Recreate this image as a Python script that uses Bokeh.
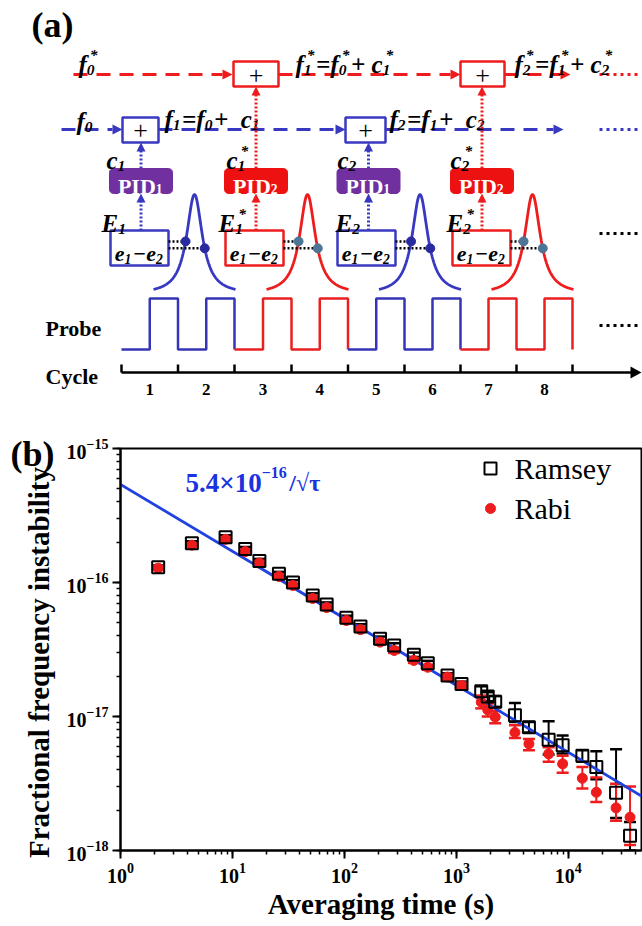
import numpy as np
from bokeh.plotting import figure
from bokeh.models import Range1d, Whisker, TeeHead, ColumnDataSource, Label
from bokeh.core.properties import value
from bokeh.embed import file_html
from bokeh.resources import INLINE

# ---------------- data for panel (b) ----------------
tau = [2.17, 4.34, 8.68, 13.0, 17.4, 26.0, 34.7, 52.1, 69.4, 104, 139, 208, 278,
       417, 555, 833, 1111, 1666, 1905, 2222, 3333, 4444, 6666, 8888, 13333,
       17777, 26666, 35555]
ramsey = [1.30e-16, 1.96e-16, 2.18e-16, 1.78e-16, 1.45e-16, 1.16e-16, 1.00e-16,
          8.0e-17, 6.86e-17, 5.45e-17, 4.7e-17, 3.8e-17, 3.39e-17, 2.89e-17,
          2.5e-17, 2.02e-17, 1.75e-17, 1.54e-17, 1.41e-17, 1.29e-17, 1.02e-17,
          8.3e-18, 6.7e-18, 6.1e-18, 5.1e-18, 4.2e-18, 2.7e-18, 1.29e-18]
ramsey_hi = [1.34e-16, 2.03e-16, 2.25e-16, 1.84e-16, 1.50e-16, 1.20e-16, 1.04e-16,
             8.3e-17, 7.1e-17, 5.65e-17, 4.88e-17, 3.95e-17, 3.52e-17, 3.0e-17,
             2.6e-17, 2.1e-17, 1.82e-17, 1.68e-17, 1.52e-17, 1.42e-17, 1.26e-17,
             9.1e-18, 9.2e-18, 7.2e-18, 5.6e-18, 5.5e-18, 5.7e-18, 1.63e-18]
ramsey_lo = [1.26e-16, 1.89e-16, 2.11e-16, 1.72e-16, 1.40e-16, 1.12e-16, 0.96e-16,
             7.7e-17, 6.6e-17, 5.25e-17, 4.52e-17, 3.65e-17, 3.26e-17, 2.78e-17,
             2.4e-17, 1.94e-17, 1.68e-17, 1.42e-17, 1.30e-17, 1.18e-17, 9.1e-18,
             7.6e-18, 5.2e-18, 5.3e-18, 4.6e-18, 3.4e-18, 1.75e-18, 1.0e-18]
rabi = [1.28e-16, 1.90e-16, 2.10e-16, 1.70e-16, 1.40e-16, 1.11e-16, 9.5e-17,
        7.6e-17, 6.5e-17, 5.2e-17, 4.45e-17, 3.59e-17, 3.11e-17, 2.62e-17,
        2.33e-17, 1.97e-17, 1.70e-17, 1.28e-17, 1.12e-17, 9.9e-18, 7.6e-18,
        6.25e-18, 5.26e-18, 4.43e-18, 3.46e-18, 2.72e-18, 2.08e-18, 1.77e-18]
rabi_hi = [1.32e-16, 1.96e-16, 2.17e-16, 1.76e-16, 1.45e-16, 1.15e-16, 9.85e-17,
           7.9e-17, 6.75e-17, 5.4e-17, 4.62e-17, 3.73e-17, 3.24e-17, 2.73e-17,
           2.43e-17, 2.06e-17, 1.79e-17, 1.43e-17, 1.25e-17, 1.1e-17, 8.6e-18,
           6.8e-18, 5.9e-18, 5.1e-18, 4.2e-18, 3.5e-18, 3.15e-18, 3.0e-18]
rabi_lo = [1.24e-16, 1.84e-16, 2.03e-16, 1.64e-16, 1.35e-16, 1.07e-16, 9.15e-17,
           7.3e-17, 6.25e-17, 5.0e-17, 4.28e-17, 3.45e-17, 2.98e-17, 2.51e-17,
           2.23e-17, 1.88e-17, 1.61e-17, 1.15e-17, 1.0e-17, 8.9e-18, 6.9e-18,
           5.6e-18, 4.6e-18, 3.8e-18, 2.9e-18, 2.3e-18, 1.67e-18, 1.1e-18]
fit_coef = 5.4e-16          # sigma = fit_coef / sqrt(tau)
x_limits = [1.0, 4.5e4]
y_limits = [1e-18, 1e-15]
x_title = "Averaging time (s)"
y_title = "Fractional frequency instability"

# ---------------- schematic (a) layout ----------------
cycle_labels = ["1", "2", "3", "4", "5", "6", "7", "8"]
cycle_bounds = [121, 177.5, 234, 291, 347.5, 404, 460, 516, 572]
pair_colors = ["#3535b5", "#e82020", "#3535b5", "#e82020"]
pid_names = [("PID", "1"), ("PID", "2"), ("PID", "1"), ("PID", "2")]
pid_colors = ["#7030a0", "#ee1111", "#7030a0", "#ee1111"]
pid_cx = [140.5, 255.5, 368, 481.5]
ebox_cx = [139, 254, 366, 481]
peak_cx = [194, 307, 419.5, 532]
dot_colors = ["#2a2aa0", "#4d7595", "#2a2aa0", "#4d7595"]

RED = "#ee1c1c"
BLUE = "#3838c0"
SERIF = "Liberation Serif"
PAGE_H = 926
HA = PAGE_H       # background canvas (diagram + outer texts)
HB = 501          # plot canvas, overlaid on the lower part
OVER = HA + HB - PAGE_H

W = {'f': 333, 'c': 444, 'e': 444, 'E': 667, '0': 500, '1': 500, '2': 500,
     '=': 570, '+': 570, ' ': 250, '*': 500, '\u2212': 606, 'P': 611, 'I': 389, 'D': 722}


def wid(s, size):
    return sum(W.get(ch, 500) for ch in s) * size / 1000.0


pa = figure(width=642, height=HA, x_range=Range1d(0, 642), y_range=Range1d(HA, 0),
            output_backend="svg", toolbar_location=None, min_border=0,
            x_axis_location=None, y_axis_location=None)
pa.grid.visible = False
pa.outline_line_color = None


def txt(fig, x, y, s, size, color="black", style="bold italic", align="left", base="alphabetic",
        font=SERIF, angle=0.0):
    fig.text(x=[x], y=[y], text=[s], text_font=value(font), text_font_style=style,
             text_font_size=value(f"{size}px"), text_color=color, text_align=align,
             text_baseline=base, angle=angle)


SUPDX = 3
GAP = 1.5


def math(fig, x, y, parts, size=25, color="black", style="bold italic", sub_dy=5):
    for main, sub, sup in parts:
        if main:
            txt(fig, x, y, main, size, color, style)
            x += wid(main, size)
        adv = 0
        if sub:
            txt(fig, x, y + sub_dy, sub, size * 0.62, color, style)
            adv = max(adv, wid(sub, size * 0.62) + GAP)
        if sup:
            txt(fig, x + SUPDX, y - 10, sup, size * 0.62, color, style)
            adv = max(adv, wid(sup, size * 0.62) + SUPDX + GAP)
        x += adv


def math_width(parts, size=25):
    t = 0
    for main, sub, sup in parts:
        if main:
            t += wid(main, size)
        adv = 0
        if sub:
            adv = max(adv, wid(sub, size * 0.62) + GAP)
        if sup:
            adv = max(adv, wid(sup, size * 0.62) + SUPDX + GAP)
        t += adv
    return t


def arrow_right(fig, x, y, color):
    fig.patch([x, x - 10, x - 10], [y, y - 5, y + 5], color=color, line_width=0)


def arrow_up(fig, x, y, color):
    fig.patch([x, x - 4.5, x + 4.5], [y, y + 9, y + 9], color=color, line_width=0)


def box(fig, x0, x1, y0, y1, color, lw=2.5):
    fig.quad(left=x0, right=x1, top=y0, bottom=y1, fill_color="white", line_color=color, line_width=lw)


txt(pa, 31, 24, "(a)", 36, style="bold", base="middle")
txt(pa, 10, 453, "(b)", 36, style="bold", base="middle")
txt(pa, 38, 662, y_title, 29, style="bold", align="center", base="middle", angle=np.pi / 2)

# red (starred) line
RY = 74
dash = "14 9"
pa.line([73, 222], [RY, RY], color=RED, line_width=3, line_dash=dash)
arrow_right(pa, 232, RY, RED)
pa.line([278, 450], [RY, RY], color=RED, line_width=3, line_dash=dash)
arrow_right(pa, 460, RY, RED)
pa.line([504, 560], [RY, RY], color=RED, line_width=3, line_dash=dash)
arrow_right(pa, 570, RY, RED)
pa.line([599, 640], [RY, RY], color=RED, line_width=3, line_dash="3 4")
box(pa, 233, 278, 61, 86, RED)
box(pa, 460, 504, 61, 86, RED)
txt(pa, 255.5, 75, "+", 26, style="normal", align="center", base="middle")
txt(pa, 482, 75, "+", 26, style="normal", align="center", base="middle")

# blue line
BY = 129
pa.line([61, 112], [BY, BY], color=BLUE, line_width=3, line_dash=dash)
arrow_right(pa, 122, BY, BLUE)
pa.line([158, 335], [BY, BY], color=BLUE, line_width=3, line_dash=dash)
arrow_right(pa, 345, BY, BLUE)
pa.line([385, 553], [BY, BY], color=BLUE, line_width=3, line_dash=dash)
arrow_right(pa, 563, BY, BLUE)
pa.line([599, 640], [BY, BY], color=BLUE, line_width=3, line_dash="3 4")
box(pa, 122, 158, 117, 142, BLUE)
box(pa, 345, 385, 117, 142, BLUE)
txt(pa, 140, 130, "+", 26, style="normal", align="center", base="middle")
txt(pa, 365, 130, "+", 26, style="normal", align="center", base="middle")

# equations
math(pa, 78, 64, [("f", "0", "*")])
math(pa, 295, 64, [("f", "1", "*"), ("=", None, None), ("f", "0", "*"), ("+ ", None, None), ("c", "1", "*")])
math(pa, 514, 64, [("f", "2", "*"), ("=", None, None), ("f", "1", "*"), ("+ ", None, None), ("c", "2", "*")])
math(pa, 76, 121, [("f", "0", None)])
math(pa, 164, 119, [("f", "1", None), ("=", None, None), ("f", "0", None), (" + ", None, None), ("c", "1", None)])
math(pa, 389, 119, [("f", "2", None), ("=", None, None), ("f", "1", None), (" + ", None, None), ("c", "2", None)])

c_labels = [("c", "1", None), ("c", "1", "*"), ("c", "2", None), ("c", "2", "*")]
c_x = [106, 226, 337, 450]
E_labels = [("E", "1", None), ("E", "1", "*"), ("E", "2", None), ("E", "2", "*")]
E_x = [101, 218, 335, 446]

for i in range(4):
    col = BLUE if i % 2 == 0 else RED
    top = 142 if i % 2 == 0 else 86
    pa.line([pid_cx[i], pid_cx[i]], [168, top + 8], color=col, line_width=3, line_dash="2 2")
    arrow_up(pa, pid_cx[i], top, col)
    pa.line([pid_cx[i], pid_cx[i]], [230, 201], color=col, line_width=3, line_dash="2 2")
    arrow_up(pa, pid_cx[i], 193, col)
    box(pa, ebox_cx[i] - 29, ebox_cx[i] + 29, 230, 265, col)
    cx, cy, w, h, r = pid_cx[i], 180.5, 63, 25, 4
    xs, ys = [], []
    for (ox, oy, a0, a1) in [(cx + w / 2 - r, cy - h / 2 + r, -90, 0), (cx + w / 2 - r, cy + h / 2 - r, 0, 90),
                             (cx - w / 2 + r, cy + h / 2 - r, 90, 180), (cx - w / 2 + r, cy - h / 2 + r, 180, 270)]:
        for a in np.linspace(np.radians(a0), np.radians(a1), 6):
            xs.append(ox + r * np.cos(a))
            ys.append(oy + r * np.sin(a))
    pa.patch(xs, ys, fill_color=pid_colors[i], line_color=pid_colors[i], line_width=1)
    pparts = [(pid_names[i][0], pid_names[i][1], None)]
    math(pa, cx - math_width(pparts, 22) / 2, 185.5, pparts, size=22, color="white", style="bold", sub_dy=3)
    math(pa, c_x[i], 160, [c_labels[i]])
    math(pa, E_x[i], 223, [E_labels[i]])
    eparts = [("e", "1", None), ("\u2212", None, None), ("e", "2", None)]
    math(pa, ebox_cx[i] - math_width(eparts, 22) / 2, 253, eparts, size=22)
    g = 9.5
    xx = np.linspace(-41, 41, 200)
    yy = 294 - 100 / (1 + (xx / g) ** 2)
    pa.line(peak_cx[i] + xx, yy, color=col, line_width=2.8)
    ddx = np.array([-0.94 * g, 1.08 * g])
    ddy = 294 - 100 / (1 + (ddx / g) ** 2)
    for k in range(2):
        pa.line([ebox_cx[i] + 29, peak_cx[i] + ddx[k]], [ddy[k], ddy[k]], color="black", line_width=2.5, line_dash="2 2")
    pa.scatter(peak_cx[i] + ddx, ddy, size=9, color=dot_colors[i])

pa.line([599, 640], [233, 233], color="black", line_width=3, line_dash="3 4")
pa.line([599, 640], [325, 325], color="black", line_width=3, line_dash="3 4")

# probe waveform
LOW, HIGH = 349, 298
for k in range(4):
    b0, b1, b2 = cycle_bounds[2 * k], cycle_bounds[2 * k + 1], cycle_bounds[2 * k + 2]
    m0, m1 = (b0 + b1) / 2, (b1 + b2) / 2
    px = [b0, m0, m0, b1, b1, m1, m1, b2, b2]
    py = [LOW, LOW, HIGH, HIGH, LOW, LOW, HIGH, HIGH, LOW]
    pa.line(px, py, color=pair_colors[k], line_width=2.5)

txt(pa, 45, 328, "Probe", 22, style="bold", base="middle")
txt(pa, 45, 376, "Cycle", 22, style="bold", base="middle")

AY = 372
pa.line([121, 632], [AY, AY], color="black", line_width=2.5)
pa.patch([641, 630, 630], [AY, AY - 6, AY + 6], color="black", line_width=0)
for b in cycle_bounds:
    pa.line([b, b], [AY, AY - 8], color="black", line_width=2.5)
for i, lab in enumerate(cycle_labels):
    txt(pa, (cycle_bounds[i] + cycle_bounds[i + 1]) / 2, 389, lab, 17, style="bold", align="center", base="middle")

# ---------------- panel (b) ----------------
FL, FR, FT, FB = 120, 641, 448, 850  # frame edges in page pixels
TOPB = FT - (PAGE_H - HB)
pb = figure(width=642, height=HB, x_axis_type="log", y_axis_type="log",
            x_range=Range1d(*x_limits), y_range=Range1d(*y_limits),
            output_backend="svg", toolbar_location=None,
            min_border_left=FL, min_border_right=642 - FR, min_border_top=TOPB,
            min_border_bottom=PAGE_H - FB)
pb.margin = (-OVER, 0, 0, 0)
pb.border_fill_alpha = 0
pb.background_fill_alpha = 0
pb.grid.visible = False
pb.outline_line_color = "black"
pb.outline_line_width = 2
pb.xaxis.axis_label = x_title
for ax in (pb.xaxis[0], pb.yaxis[0]):
    ax.axis_line_width = 2
    ax.axis_line_color = "black"
    ax.major_tick_line_width = 2
    ax.major_tick_line_color = "black"
    ax.minor_tick_line_width = 1.5
    ax.minor_tick_line_color = "black"
    ax.major_tick_out = 8
    ax.major_tick_in = 0
    ax.minor_tick_out = 4
    ax.minor_tick_in = 0
    ax.major_label_text_font = SERIF
    ax.major_label_text_font_style = "bold"
    ax.major_label_text_font_size = "20px"
    ax.major_label_text_color = "black"
    ax.axis_label_text_font = SERIF
    ax.axis_label_text_font_style = "bold"
    ax.axis_label_text_color = "black"
    ax.major_label_standoff = 4
pb.xaxis.axis_label_text_font_size = "29px"
pb.xaxis.axis_label_standoff = 2


def px2t(px):
    return 10 ** (np.log10(x_limits[0]) + (px - FL) / (FR - FL) * (np.log10(x_limits[1]) - np.log10(x_limits[0])))


def py2s(py):
    return 10 ** (np.log10(y_limits[0]) + (FB - py) / (FB - FT) * (np.log10(y_limits[1]) - np.log10(y_limits[0])))


src_r = ColumnDataSource(dict(t=tau, y=ramsey, lo=ramsey_lo, hi=ramsey_hi))
src_b = ColumnDataSource(dict(t=tau, y=rabi, lo=rabi_lo, hi=rabi_hi))
for src, col in ((src_r, "black"), (src_b, RED)):
    pb.add_layout(Whisker(source=src, base="t", lower="lo", upper="hi", dimension="height",
                          line_color=col, line_width=2,
                          upper_head=TeeHead(size=12, line_color=col, line_width=2.5),
                          lower_head=TeeHead(size=12, line_color=col, line_width=2.5)))

fit_t = np.array(x_limits)
pb.line(fit_t, fit_coef / np.sqrt(fit_t), color="#2042e0", line_width=2.8)
pb.scatter("t", "y", source=src_b, marker="circle", size=10, color=RED)
pb.scatter("t", "y", source=src_r, marker="square", size=12, fill_color=None,
           line_color="black", line_width=2)

# legend
pb.scatter([px2t(490)], [py2s(468)], marker="square", size=12, fill_color=None, line_color="black", line_width=2)
pb.scatter([px2t(490)], [py2s(508)], marker="circle", size=10, color=RED)
for s, py in (("Ramsey", 468), ("Rabi", 508)):
    pb.add_layout(Label(x=px2t(514), y=py2s(py), text=s, text_font=SERIF, text_font_size="30px",
                        text_baseline="middle", text_color="black"))

# fit label
fx = 185
pb.add_layout(Label(x=px2t(fx), y=py2s(482), text="5.4\u00d710", text_font=SERIF, text_font_style="bold",
                    text_font_size="27px", text_baseline="middle", text_color="#1a33e0"))
fx += (0.5 + 0.25 + 0.5 + 0.57 + 0.5 + 0.5) * 27
pb.add_layout(Label(x=px2t(fx), y=py2s(472), text="\u221216", text_font=SERIF, text_font_style="bold",
                    text_font_size="16px", text_baseline="middle", text_color="#1a33e0"))
fx += (0.606 + 0.5 + 0.5) * 16 + 2
pb.add_layout(Label(x=px2t(fx), y=py2s(482), text="/\u221a\u03c4", text_font=SERIF, text_font_style="bold",
                    text_font_size="24px", text_baseline="middle", text_color="#1a33e0"))

open("out.html", "w").write(file_html([pa, pb], INLINE))
